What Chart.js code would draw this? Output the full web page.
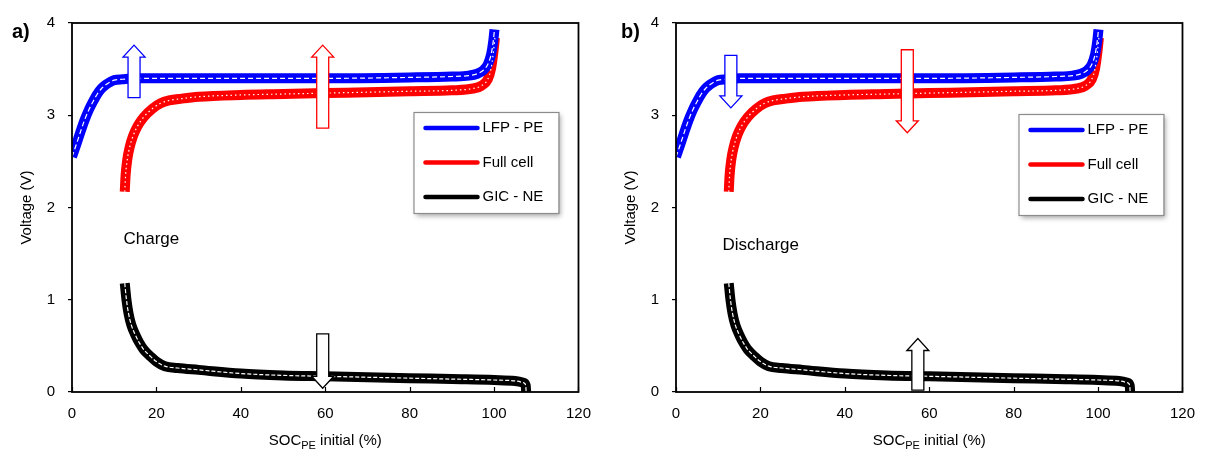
<!DOCTYPE html>
<html>
<head>
<meta charset="utf-8">
<title>Voltage profiles vs SOC</title>
<script src="https://cdn.jsdelivr.net/npm/chart.js@4.4.1/dist/chart.umd.min.js"></script>
<style>
  body { margin: 0; background: #fff; }
  #wrap { position: relative; width: 1208px; height: 454px; }
  .panel { position: absolute; top: 0; width: 604px; height: 454px; }
</style>
</head>
<body>
<div id="wrap">
  <div class="panel" style="left:0"><canvas id="chartA" width="604" height="454"></canvas></div>
  <div class="panel" style="left:604px"><canvas id="chartB" width="604" height="454"></canvas></div>
</div>
<script>
// LFP positive electrode
const lfpSoc = [0, 1, 2, 3, 4, 5, 6, 7, 8, 9, 10, 12, 15, 20, 40, 60, 80, 90, 94, 96, 97.5, 98.5, 99.3, 99.8, 100.1];
const lfpVoltage = [2.55, 2.68, 2.82, 2.95, 3.06, 3.15, 3.23, 3.29, 3.33, 3.36, 3.38, 3.39, 3.40, 3.40, 3.40, 3.40, 3.41, 3.42, 3.43, 3.45, 3.49, 3.55, 3.66, 3.80, 3.93];

// full cell
const cellSoc = [12.5, 12.7, 13.1, 13.7, 14.5, 15.5, 17, 19, 21, 23, 26, 30, 40, 50, 60, 70, 80, 90, 95, 97, 98.5, 99.3, 99.8, 100.2];
const cellVoltage = [2.17, 2.35, 2.52, 2.66, 2.78, 2.88, 2.98, 3.07, 3.13, 3.16, 3.18, 3.20, 3.22, 3.23, 3.24, 3.25, 3.26, 3.27, 3.29, 3.32, 3.39, 3.51, 3.67, 3.84];

// graphite intercalation compound negative electrode
const gicSoc = [12.5, 12.9, 13.4, 14.1, 15, 16, 17, 18.5, 20, 22, 25, 30, 40, 50, 60, 70, 80, 90, 100, 105, 107, 107.5, 107.6];
const gicVoltage = [1.18, 1.0, 0.85, 0.72, 0.62, 0.53, 0.46, 0.39, 0.33, 0.28, 0.26, 0.24, 0.20, 0.18, 0.17, 0.16, 0.15, 0.14, 0.13, 0.12, 0.10, 0.07, 0.0];

const seriesNames = ['LFP - PE', 'Full cell', 'GIC - NE'];
const seriesColors = ['#0000ff', '#ff0000', '#000000'];
const centerDashes = [[5, 3], [1.5, 3], [4, 2]];
const xTicks = [0, 20, 40, 60, 80, 100, 120];
const yTicks = [0, 1, 2, 3, 4];

const FONT = '"Liberation Sans", Arial, sans-serif';

function points(xs, ys) {
  return xs.map((x, i) => ({ x: x, y: ys[i] }));
}

const curves = [points(lfpSoc, lfpVoltage), points(cellSoc, cellVoltage), points(gicSoc, gicVoltage)];

function buildDatasets() {
  const sets = [];
  curves.forEach((data, i) => {
    // thick band for the cycles
    sets.push({
      label: seriesNames[i], data: data, borderColor: seriesColors[i], borderWidth: 10,
      pointRadius: 0, cubicInterpolationMode: 'monotone', order: 2, fill: false
    });
    // light centre trace
    sets.push({
      label: seriesNames[i] + ' mean', data: data, borderColor: '#ffffff', borderWidth: 1.2,
      borderDash: centerDashes[i], pointRadius: 0, cubicInterpolationMode: 'monotone', order: 1, fill: false
    });
  });
  return sets;
}

function drawArrow(ctx, cx, yFrom, yTo, color) {
  const shaft = 6, head = 11, headLen = 12;
  const dir = yTo < yFrom ? -1 : 1;
  const base = yTo - dir * headLen;
  ctx.beginPath();
  ctx.moveTo(cx - shaft, yFrom);
  ctx.lineTo(cx - shaft, base);
  ctx.lineTo(cx - head, base);
  ctx.lineTo(cx, yTo);
  ctx.lineTo(cx + head, base);
  ctx.lineTo(cx + shaft, base);
  ctx.lineTo(cx + shaft, yFrom);
  ctx.closePath();
  ctx.fillStyle = '#ffffff';
  ctx.fill();
  ctx.strokeStyle = color;
  ctx.lineWidth = 1.3;
  ctx.stroke();
}

const decor = {
  id: 'decor',
  afterDatasetsDraw(chart, args, opts) {
    const { ctx, scales: { x, y } } = chart;
    ctx.save();
    opts.arrows.forEach(a => {
      drawArrow(ctx, x.getPixelForValue(a.x), y.getPixelForValue(a.from), y.getPixelForValue(a.to), a.color);
    });
    ctx.restore();
  },
  afterDraw(chart, args, opts) {
    const { ctx, chartArea: area, scales: { x, y } } = chart;
    ctx.save();

    // frame
    ctx.strokeStyle = '#000';
    ctx.lineWidth = 1.8;
    ctx.strokeRect(area.left, area.top, area.right - area.left, area.bottom - area.top);

    // inward ticks on the x axis
    ctx.lineWidth = 1.2;
    xTicks.forEach(v => {
      const px = Math.round(x.getPixelForValue(v)) + 0.5;
      ctx.beginPath();
      ctx.moveTo(px, area.bottom);
      ctx.lineTo(px, area.bottom - 5);
      ctx.stroke();
    });

    // panel letter
    ctx.fillStyle = '#000';
    ctx.font = 'bold 20px ' + FONT;
    ctx.textAlign = 'left';
    ctx.textBaseline = 'middle';
    ctx.fillText(opts.letter, opts.letterX, 32);

    // mode label
    ctx.font = '17px ' + FONT;
    ctx.fillText(opts.mode, x.getPixelForValue(opts.modeAt[0]), y.getPixelForValue(opts.modeAt[1]));

    // x-axis title with subscript
    const cx = (area.left + area.right) / 2;
    const ty = 441;
    const main = '15px ' + FONT, sub = '11px ' + FONT;
    ctx.font = main;
    const w1 = ctx.measureText('SOC').width;
    const w3 = ctx.measureText(' initial (%)').width;
    ctx.font = sub;
    const w2 = ctx.measureText('PE').width;
    let tx = cx - (w1 + w2 + w3) / 2;
    ctx.font = main;
    ctx.fillText('SOC', tx, ty);
    tx += w1;
    ctx.font = sub;
    ctx.fillText('PE', tx, ty + 5);
    tx += w2;
    ctx.font = main;
    ctx.fillText(' initial (%)', tx, ty);

    // legend box
    const bw = 145, bh = 101;
    const bx = area.right - opts.legendRight - bw;
    const by = area.top + opts.legendTop;
    ctx.save();
    ctx.shadowColor = 'rgba(0,0,0,0.35)';
    ctx.shadowBlur = 5;
    ctx.shadowOffsetX = 3;
    ctx.shadowOffsetY = 3;
    ctx.fillStyle = '#fff';
    ctx.fillRect(bx, by, bw, bh);
    ctx.restore();
    ctx.strokeStyle = '#8c8c8c';
    ctx.lineWidth = 1.2;
    ctx.strokeRect(bx + 0.5, by + 0.5, bw, bh);
    ctx.font = '15px ' + FONT;
    ctx.textBaseline = 'middle';
    seriesNames.forEach((name, i) => {
      const ry = by + 16 + i * 34.5;
      ctx.strokeStyle = seriesColors[i];
      ctx.lineWidth = 4.5;
      ctx.lineCap = 'round';
      ctx.beginPath();
      ctx.moveTo(bx + 12, ry);
      ctx.lineTo(bx + 64, ry);
      ctx.stroke();
      ctx.fillStyle = '#000';
      ctx.fillText(name, bx + 69, ry);
    });

    ctx.restore();
  }
};

function makeChart(canvasId, panel) {
  return new Chart(document.getElementById(canvasId), {
    type: 'line',
    data: { datasets: buildDatasets() },
    plugins: [decor],
    options: {
      responsive: false,
      animation: false,
      layout: { padding: { top: 23, right: panel.padRight, bottom: 0, left: 0 } },
      plugins: {
        legend: { display: false },
        tooltip: { enabled: false },
        decor: panel
      },
      scales: {
        x: {
          type: 'linear', min: 0, max: 120,
          afterBuildTicks: s => { s.ticks = xTicks.map(v => ({ value: v })); },
          afterFit: s => { s.height = 62; },
          grid: { display: false, drawTicks: false },
          border: { display: false },
          ticks: { color: '#000', font: { family: FONT, size: 15 }, padding: 13, maxRotation: 0 }
        },
        y: {
          type: 'linear', min: 0, max: 4,
          afterBuildTicks: s => { s.ticks = yTicks.map(v => ({ value: v })); },
          afterFit: s => { s.width = 72; },
          grid: { drawOnChartArea: false, drawTicks: true, tickLength: 4, color: '#000', lineWidth: 1.2 },
          border: { display: false },
          ticks: { color: '#000', font: { family: FONT, size: 15 }, padding: 13 },
          title: { display: true, text: 'Voltage (V)', color: '#000', font: { family: FONT, size: 15 }, padding: { top: 18, bottom: 0 } }
        }
      }
    }
  });
}

makeChart('chartA', {
  letter: 'a)', letterX: 12, mode: 'Charge', modeAt: [12.2, 1.65],
  legendRight: 20, legendTop: 89, padRight: 19,
  arrows: [
    { x: 14.7, from: 3.19, to: 3.76, color: '#0000ff' },
    { x: 59.4, from: 2.86, to: 3.76, color: '#ff0000' },
    { x: 59.4, from: 0.63, to: 0.04, color: '#000000' }
  ]
});

makeChart('chartB', {
  letter: 'b)', letterX: 17, mode: 'Discharge', modeAt: [11.0, 1.59],
  legendRight: 19, legendTop: 91, padRight: 18,
  arrows: [
    { x: 13.0, from: 3.65, to: 3.08, color: '#0000ff' },
    { x: 54.8, from: 3.71, to: 2.81, color: '#ff0000' },
    { x: 57.3, from: 0.02, to: 0.58, color: '#000000' }
  ]
});
</script>
</body>
</html>
